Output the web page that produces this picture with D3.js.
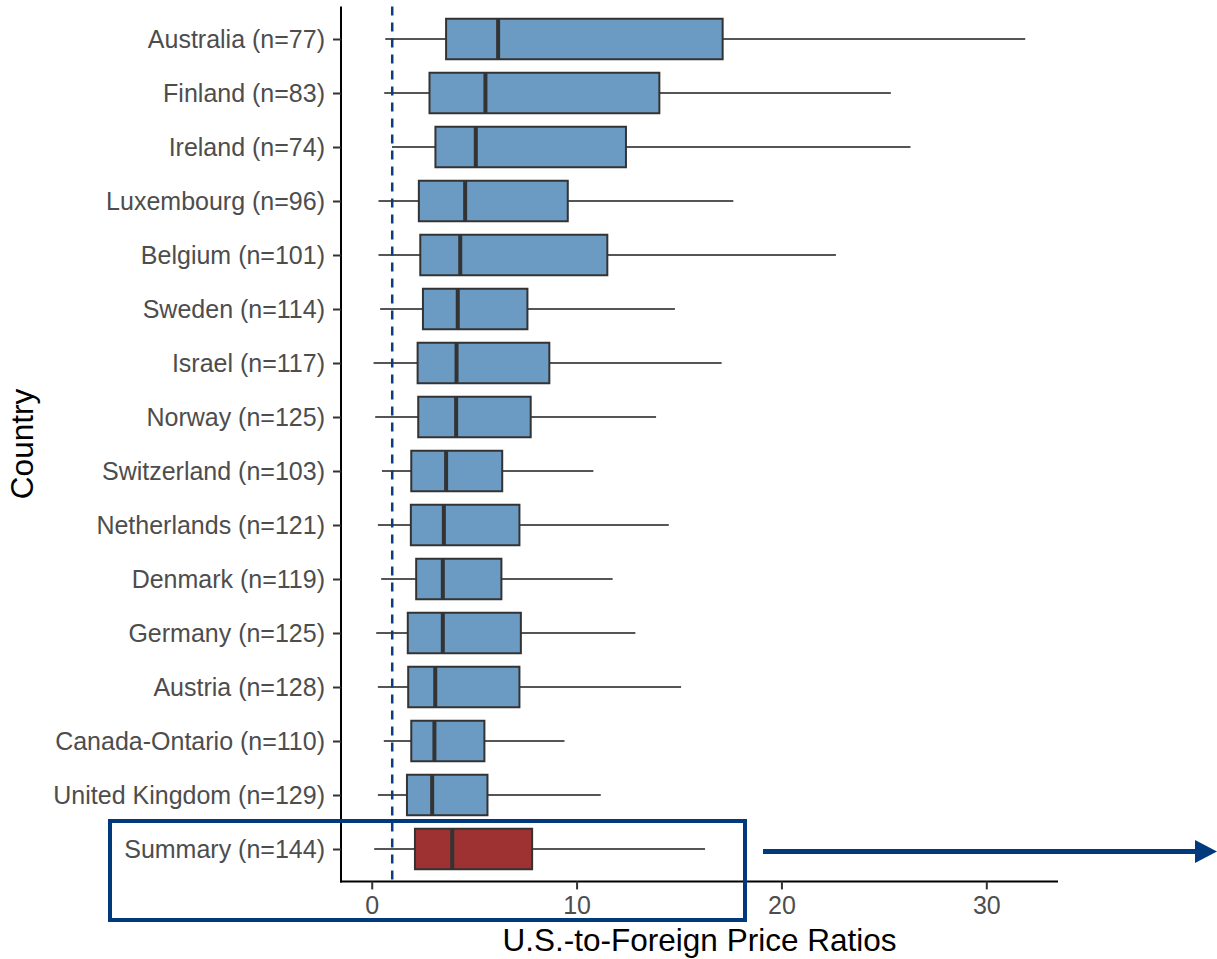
<!DOCTYPE html>
<html>
<head>
<meta charset="utf-8">
<script src="https://cdn.jsdelivr.net/npm/d3@7"></script>
<style>
  body { margin: 0; background: #fff; }
  svg { display: block; font-family: "Liberation Sans", Arial, Helvetica, sans-serif; }
</style>
</head>
<body>
<svg id="chart" width="1217" height="959"></svg>
<script>
// Box plot of U.S.-to-foreign price ratios by country

const countries = ['Australia', 'Finland', 'Ireland', 'Luxembourg', 'Belgium', 'Sweden', 'Israel',
  'Norway', 'Switzerland', 'Netherlands', 'Denmark', 'Germany', 'Austria', 'Canada-Ontario',
  'United Kingdom', 'Summary'];
const counts = [77, 83, 74, 96, 101, 114, 117, 125, 103, 121, 119, 125, 128, 110, 129, 144];
const whiskerLow = [0.66, 0.61, 0.99, 0.33, 0.33, 0.41, 0.09, 0.17, 0.50, 0.30, 0.46, 0.22, 0.30, 0.59, 0.30, 0.12];
const q1 = [3.63, 2.82, 3.11, 2.30, 2.37, 2.50, 2.24, 2.27, 1.93, 1.91, 2.17, 1.76, 1.78, 1.93, 1.72, 2.11];
const medians = [6.17, 5.55, 5.08, 4.56, 4.32, 4.20, 4.14, 4.12, 3.63, 3.52, 3.47, 3.47, 3.10, 3.06, 2.95, 3.93];
const q3 = [17.13, 14.04, 12.41, 9.57, 11.50, 7.60, 8.67, 7.76, 6.37, 7.21, 6.33, 7.28, 7.21, 5.50, 5.65, 7.83];
const whiskerHigh = [31.9, 25.34, 26.30, 17.65, 22.66, 14.80, 17.08, 13.88, 10.82, 14.50, 11.76, 12.87, 15.10, 9.41, 11.18, 16.27];
const xTicks = [0, 10, 20, 30];
const parityLine = 1;

const labels = countries.map((c, i) => `${c} (n=${counts[i]})`);
const data = countries.map((c, i) => ({
  label: labels[i],
  summary: c === 'Summary',
  lo: whiskerLow[i], q1: q1[i], med: medians[i], q3: q3[i], hi: whiskerHigh[i]
}));

const svg = d3.select('#chart');
const panel = { left: 341, right: 1058, top: 6.6, bottom: 881.4 };

const x = d3.scaleLinear()
  .domain([-1.5, 33.5])
  .range([panel.left, panel.right]);

const y = d3.scalePoint()
  .domain(labels)
  .range([panel.top, panel.bottom])
  .padding(0.6);

const boxH = y.step() * 0.75;

// Axes
const xAxis = svg.append('g')
  .attr('transform', `translate(0,${panel.bottom})`)
  .call(d3.axisBottom(x).tickValues(xTicks).tickSize(8).tickPadding(7).tickSizeOuter(0));

const yAxis = svg.append('g')
  .attr('transform', `translate(${panel.left},0)`)
  .call(d3.axisLeft(y).tickSize(8).tickPadding(8).tickSizeOuter(0));

[xAxis, yAxis].forEach(a => {
  a.select('.domain').attr('stroke', '#000').attr('stroke-width', 2);
  a.selectAll('.tick line').attr('stroke', '#333').attr('stroke-width', 2);
  a.selectAll('.tick text')
    .attr('fill', '#4d4d4d')
    .style('font-size', '25px');
});
// extend axis lines to meet at the corner
xAxis.select('.domain').attr('d', `M${panel.left - 1},0H${panel.right}`);
yAxis.select('.domain').attr('d', `M0,${panel.top}V${panel.bottom + 1}`);

// Whiskers
svg.append('g').selectAll('line')
  .data(data)
  .join('line')
  .attr('x1', d => x(d.lo))
  .attr('x2', d => x(d.hi))
  .attr('y1', d => y(d.label))
  .attr('y2', d => y(d.label))
  .attr('stroke', '#555')
  .attr('stroke-width', 2);

// Boxes
svg.append('g').selectAll('rect')
  .data(data)
  .join('rect')
  .attr('x', d => x(d.q1))
  .attr('y', d => y(d.label) - boxH / 2)
  .attr('width', d => x(d.q3) - x(d.q1))
  .attr('height', boxH)
  .attr('fill', d => d.summary ? '#9e3232' : '#6b9bc3')
  .attr('stroke', '#333')
  .attr('stroke-width', 2);

// Medians
svg.append('g').selectAll('line')
  .data(data)
  .join('line')
  .attr('x1', d => x(d.med))
  .attr('x2', d => x(d.med))
  .attr('y1', d => y(d.label) - boxH / 2)
  .attr('y2', d => y(d.label) + boxH / 2)
  .attr('stroke', '#333')
  .attr('stroke-width', 4);

// Parity reference line
svg.append('line')
  .attr('x1', x(parityLine))
  .attr('x2', x(parityLine))
  .attr('y1', panel.top)
  .attr('y2', panel.bottom)
  .attr('stroke', '#0b3c7c')
  .attr('stroke-width', 2.5)
  .attr('stroke-dasharray', '9,7');

// Axis titles
svg.append('text')
  .attr('x', (panel.left + panel.right) / 2)
  .attr('y', 951)
  .attr('text-anchor', 'middle')
  .style('font-size', '31.5px')
  .attr('fill', '#000')
  .text('U.S.-to-Foreign Price Ratios');

svg.append('text')
  .attr('transform', `translate(33,${(panel.top + panel.bottom) / 2}) rotate(-90)`)
  .attr('text-anchor', 'middle')
  .style('font-size', '31.5px')
  .attr('fill', '#000')
  .text('Country');

// Highlight box around the summary row + arrow
const ySum = y(labels[labels.length - 1]);
const navy = '#003a7d';
svg.append('rect')
  .attr('x', 110)
  .attr('y', ySum - 28)
  .attr('width', 635)
  .attr('height', 99)
  .attr('fill', 'none')
  .attr('stroke', navy)
  .attr('stroke-width', 4);

svg.append('line')
  .attr('x1', 763)
  .attr('x2', 1198)
  .attr('y1', ySum + 2.5)
  .attr('y2', ySum + 2.5)
  .attr('stroke', navy)
  .attr('stroke-width', 5);

svg.append('path')
  .attr('d', `M1195,${ySum - 9}L1217,${ySum + 2.5}L1195,${ySum + 14}Z`)
  .attr('fill', navy);
</script>
</body>
</html>
